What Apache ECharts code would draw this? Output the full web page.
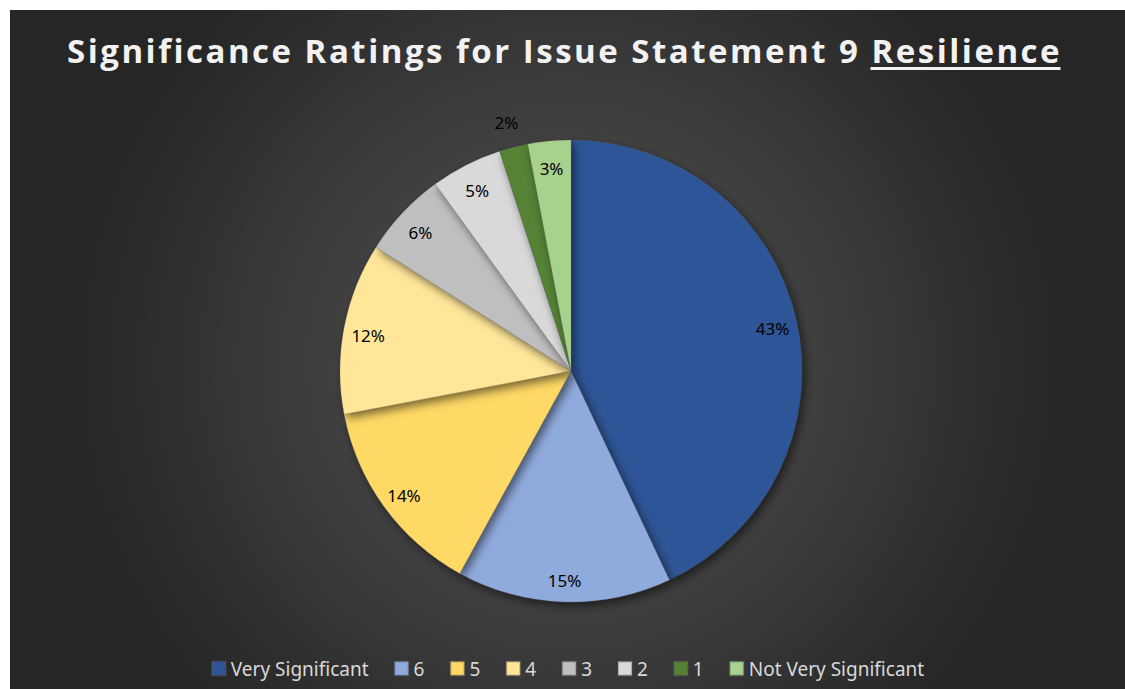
<!DOCTYPE html>
<html>
<head>
<meta charset="utf-8">
<title>Significance Ratings for Issue Statement 9 Resilience</title>
<script src="https://cdn.jsdelivr.net/npm/echarts@6/dist/echarts.min.js"></script>
<style>
  html, body { margin: 0; padding: 0; background: #fff; }
  .content {
    position: absolute;
    left: 10px;
    top: 10px;
    width: 1115px;
    height: 679px;
    background: radial-gradient(circle at 50% 52%, #575757 0%, #404040 35%, #262626 75%);
  }
</style>
</head>
<body>
<div id="sigpie" class="content"></div>
<script>
  var categories = ['Very Significant', '6', '5', '4', '3', '2', '1', 'Not Very Significant'];
  var shares = [43, 15, 14, 12, 6, 5, 2, 3];
  var colors = ['#2F5597', '#8FAADC', '#FFD966', '#FFE699', '#BFBFBF', '#D9D9D9', '#548235', '#A9D18E'];
  // labels that Excel pushed outside the pie
  var outsideLabels = ['1'];

  var titleText = 'Significance Ratings for Issue Statement 9 Resilience';
  var underlined = 'Resilience';
  var titleSpacing = 2.5;
  var titleLeft = 52;

  var center = [561, 361];
  var pieData = categories.map(function (name, i) {
    return {value: shares[i], name: name};
  });

  function labelData(outer) {
    return categories.map(function (name, i) {
      var isOut = outsideLabels.indexOf(name) >= 0;
      return {
        value: shares[i],
        name: name,
        label: {show: outer ? isOut : !isOut}
      };
    });
  }

  var labelSeries = function (radius, outer) {
    return {
      type: 'pie',
      silent: true,
      startAngle: 90,
      center: center,
      radius: radius,
      legendHoverLink: false,
      itemStyle: {color: 'rgba(0,0,0,0)'},
      label: {
        position: 'inside',
        formatter: '{c}%',
        color: '#000',
        fontSize: 17,
        fontFamily: 'Noto Sans',
        offset: [0, 3]
      },
      labelLine: {show: false},
      emphasis: {disabled: true},
      data: labelData(outer)
    };
  };

  var option = {
    animation: false,
    color: colors,
    title: {
      text: titleText,
      left: titleLeft,
      top: 19,
      textStyle: {
        color: '#f2f2f2',
        fontSize: 33,
        fontWeight: 'bold',
        fontFamily: 'Open Sans'
      }
    },
    legend: {
      bottom: 6,
      left: 'center',
      itemWidth: 14,
      itemHeight: 14,
      itemGap: 25,
      icon: 'rect',
      textStyle: {
        color: '#d9d9d9',
        fontSize: 19,
        fontFamily: 'Noto Sans'
      },
      data: categories
    },
    series: [
      {
        name: 'Significance',
        type: 'pie',
        startAngle: 90,
        center: center,
        radius: 231,
        label: {show: false},
        labelLine: {show: false},
        itemStyle: {
          borderColor: 'rgba(90,90,90,0.35)',
          borderWidth: 0.5,
          shadowBlur: 10,
          shadowOffsetX: 3,
          shadowOffsetY: 4,
          shadowColor: 'rgba(0,0,0,0.55)'
        },
        emphasis: {scale: false},
        data: pieData
      },
      labelSeries([176, 231], false),
      labelSeries([231, 283], true)
    ]
  };

  var myChart = echarts.init(document.getElementById('sigpie'), null, {renderer: 'svg'});
  myChart.setOption(option);

  function titleNode() {
    var nodes = document.querySelectorAll('#sigpie text');
    for (var i = 0; i < nodes.length; i++) {
      if (nodes[i].textContent === titleText) return nodes[i];
    }
    return null;
  }

  function spaceTitle() {
    var t = titleNode();
    if (t) t.setAttribute('letter-spacing', titleSpacing);
  }

  // underline the last word, measured on the spaced svg text
  var underlineDone = false;
  function addUnderline() {
    var t = titleNode();
    if (!t || underlineDone) return;
    underlineDone = true;
    var start = titleText.length - underlined.length;
    var svgBox = t.ownerSVGElement.getBoundingClientRect();
    var r0 = t.getExtentOfChar(start);
    var r1 = t.getExtentOfChar(titleText.length - 1);
    var m = t.getCTM();
    var x0 = m.a * r0.x + m.e - 1;
    var x1 = m.a * (r1.x + r1.width) + m.e - titleSpacing + 1;
    myChart.setOption({
      graphic: [{
        type: 'rect',
        silent: true,
        shape: {x: x0, y: 57, width: x1 - x0, height: 3},
        style: {fill: '#f2f2f2'}
      }]
    });
    spaceTitle();
  }

  spaceTitle();
  myChart.on('finished', spaceTitle);
  addUnderline();
  setTimeout(spaceTitle, 0);
</script>
</body>
</html>
